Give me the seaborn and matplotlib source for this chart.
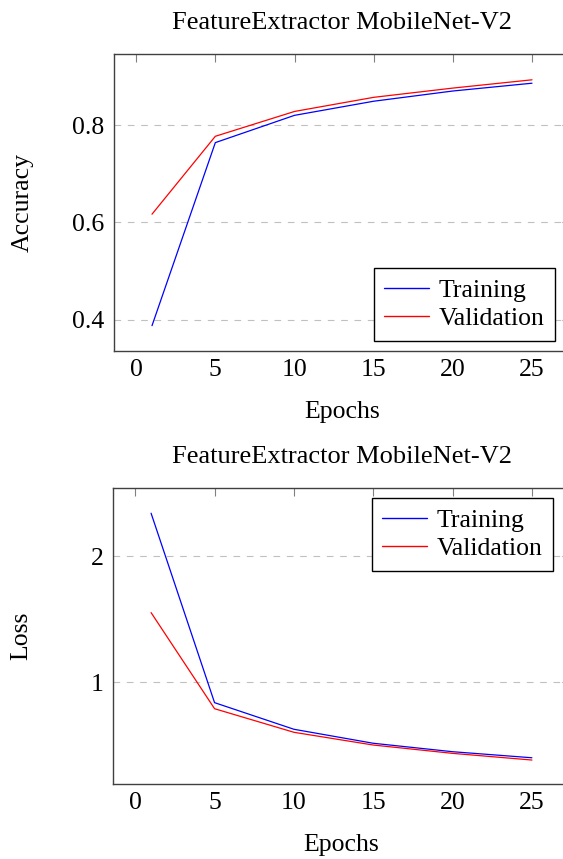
import matplotlib
matplotlib.use("Agg")
import matplotlib.pyplot as plt
import seaborn as sns
import pandas as pd

epochs = [1, 5, 10, 15, 20, 25]
train_acc = [0.388, 0.764, 0.820, 0.849, 0.870, 0.886]
val_acc = [0.617, 0.777, 0.828, 0.857, 0.876, 0.893]
train_loss = [2.34, 0.838, 0.627, 0.516, 0.449, 0.401]
val_loss = [1.552, 0.790, 0.603, 0.502, 0.436, 0.383]
series_names = ["Training", "Validation"]
title = "FeatureExtractor MobileNet-V2"
x_ticks = [0, 5, 10, 15, 20, 25]
acc_ticks = [0.4, 0.6, 0.8]
loss_ticks = [1, 2]

sns.set_style("white")
plt.rcParams["font.family"] = ["Liberation Serif", "DejaVu Serif"]
plt.rcParams["text.color"] = "black"
plt.rcParams["axes.labelcolor"] = "black"

FS = 18.5

fig = plt.figure(figsize=(5.63, 8.59), dpi=100)
ax1 = fig.add_axes([114 / 563, 1 - 351 / 859, 456 / 563, 297 / 859])
ax2 = fig.add_axes([113 / 563, 1 - 784 / 859, 457 / 563, 296 / 859])

palette = {"Training": "#0000ff", "Validation": "#ff0000"}


def make_df(tr, va):
    return pd.DataFrame({
        "Epochs": epochs * 2,
        "value": tr + va,
        "series": [series_names[0]] * len(epochs) + [series_names[1]] * len(epochs),
    })


def style_axes(ax, yticks, ylabel, ylim, legend_loc, bbox, xlab_y):
    ax.set_xlim(-1.4, 27.4)
    ax.set_ylim(*ylim)
    ax.set_xticks(x_ticks)
    ax.set_yticks(yticks)
    ax.set_xticklabels([str(t) for t in x_ticks])
    ax.set_yticklabels([("%g" % t) for t in yticks])
    ax.tick_params(axis="both", which="both", direction="in", length=6, width=0.8,
                   color="#808080", labelsize=FS, top=True, right=True, pad=6,
                   labelcolor="black")
    ax.tick_params(axis="y", pad=7)
    ax.yaxis.grid(True, linestyle=(0, (6, 6)), color="#c0c0c0", linewidth=0.8)
    ax.xaxis.grid(False)
    for s in ax.spines.values():
        s.set_color("#404040")
        s.set_linewidth(1.0)
    ax.set_xlabel("Epochs", fontsize=FS)
    ax.set_ylabel(ylabel, fontsize=FS)
    ax.yaxis.set_label_coords(-0.177, 0.5)
    ax.xaxis.set_label_coords(0.5, xlab_y)
    ax.set_title(title, fontsize=19, pad=18, color="black")
    leg = ax.legend(loc=legend_loc, fontsize=FS, frameon=True, fancybox=False,
                    edgecolor="black", framealpha=1, handlelength=1.75,
                    borderpad=0.42, labelspacing=0.2, handletextpad=0.35,
                    bbox_to_anchor=bbox, borderaxespad=0)
    leg.get_frame().set_linewidth(1.0)
    for line in leg.get_lines():
        line.set_linewidth(1.0)


sns.lineplot(data=make_df(train_acc, val_acc), x="Epochs", y="value", hue="series",
             palette=palette, ax=ax1, linewidth=0.9)
style_axes(ax1, acc_ticks, "Accuracy", (0.336, 0.946), "lower right",
           ((555 - 114) / 456, (351 - 341) / 297), -0.168)

sns.lineplot(data=make_df(train_loss, val_loss), x="Epochs", y="value", hue="series",
             palette=palette, ax=ax2, linewidth=0.9)
style_axes(ax2, loss_ticks, "Loss", (0.193, 2.54), "upper right",
           ((553 - 113) / 457, 1 - (498 - 488) / 296), -0.168)

fig.savefig("out.png", dpi=100)
